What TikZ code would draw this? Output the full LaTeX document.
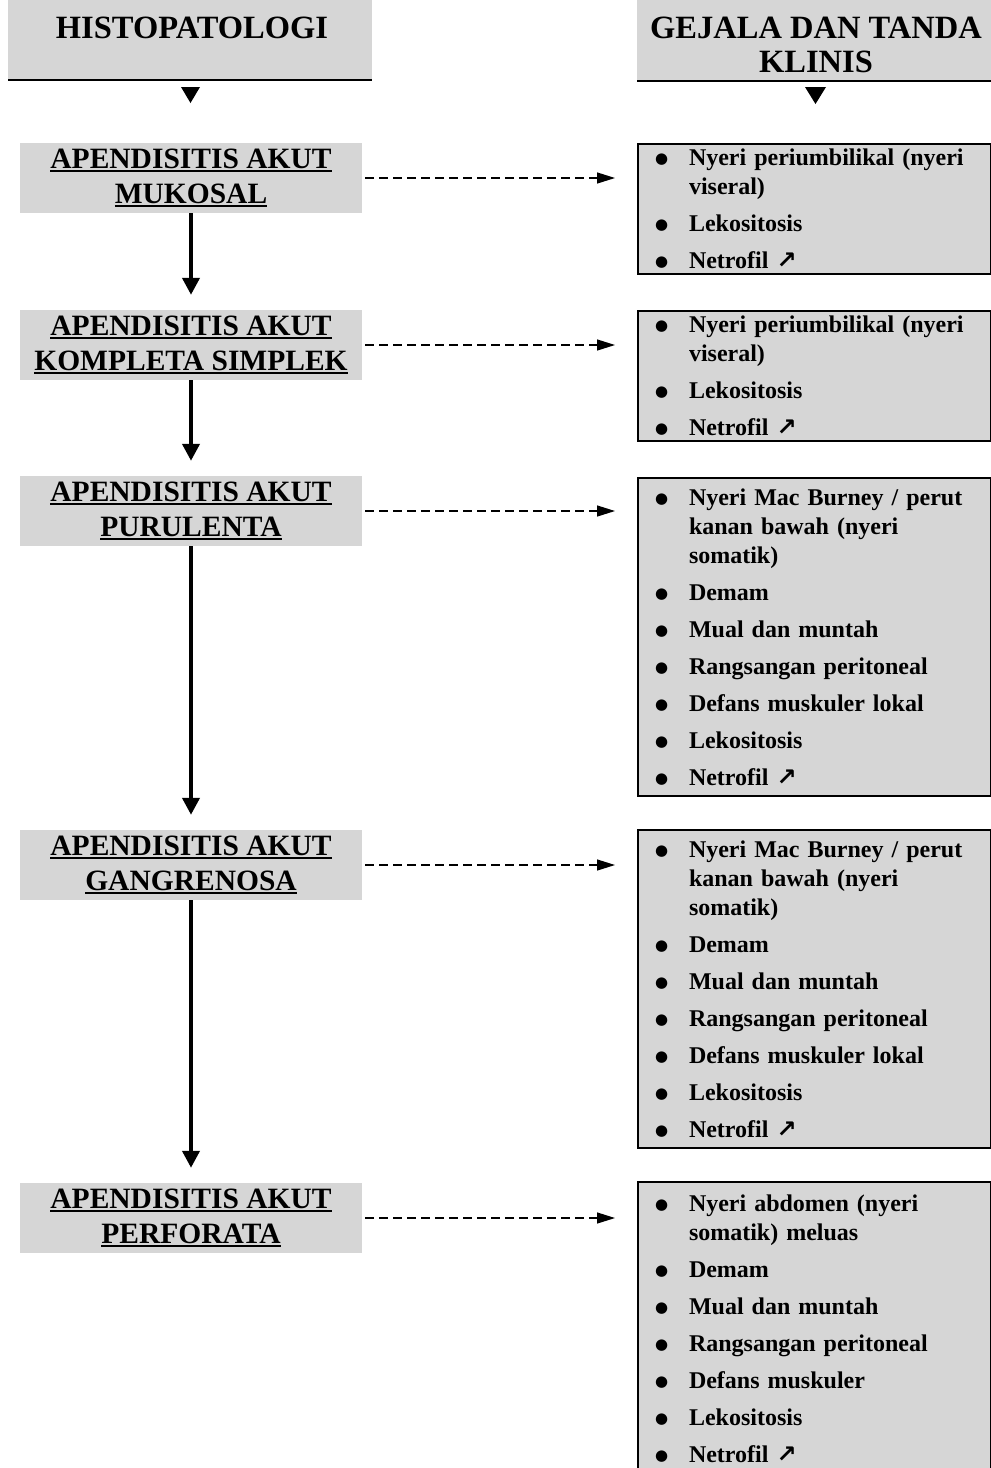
\documentclass[tikz,border=0pt]{standalone}
\usepackage{fontspec}
\setmainfont{Liberation Serif}
\newfontfamily\panahfont{DejaVu Sans}
\usepackage{tikz}
\usepackage{xcolor}
\usetikzlibrary{arrows.meta, positioning}

\definecolor{abu}{gray}{0.84}
\newcommand{\garis}[1]{\setbox0=\hbox{#1}\rlap{\rule[-4pt]{\wd0}{2.6pt}}\box0}
\newcommand{\naik}{{\panahfont\bfseries ↗}}
\newcommand{\titik}{\raisebox{2pt}{\panahfont\fontsize{15}{15}\selectfont ●}}
\newcommand{\butir}[1]{\hangindent=34pt\hangafter=1\noindent\makebox[34pt][l]{\titik}#1\par}

\begin{document}
\begin{tikzpicture}[x=1pt, y=-1pt,
    judul/.style={font=\fontsize{32.5}{34}\selectfont\bfseries, align=center},
    tahap/.style={fill=abu, minimum width=342pt, minimum height=70pt, inner sep=0pt, align=center, font=\fontsize{29.5}{35}\selectfont\bfseries},
    gejala/.style={draw, line width=2pt, fill=abu, anchor=north west, text width=319pt, inner xsep=17pt, align=left, font=\fontsize{24}{29}\selectfont\bfseries, execute at begin node={\setlength{\parskip}{8pt}}},
    panah/.style={line width=4pt, -{Triangle[length=17pt, width=17pt]}, shorten >=15pt},
    putus/.style={line width=1.3pt, dash pattern=on 9pt off 5pt, -{Triangle[length=18pt, width=11pt]}, shorten <=3pt, shorten >=22pt}]
    \useasboundingbox (0,0) rectangle (991,1468);
    \clip (0,0) rectangle (991,1468);

    % Headers
    \fill[abu] (8,0) rectangle (372,80);
    \fill[abu] (637,0) rectangle (991,80);
    \node[judul] (histo) at (192,28) {HISTOPATOLOGI};
    \node[judul] (klinis) at (816,45) {GEJALA DAN TANDA\\KLINIS};
    \draw[line width=2pt] (8,80) -- (372,80);
    \draw[line width=2pt] (637,81) -- (991,81);
    \fill (181,87) -- (200,87) -- (190.5,103) -- cycle;
    \fill (805,87) -- (826,87) -- (815.5,104) -- cycle;

    % Stages (left)
    \node[tahap] (m1) at (191,178) {\garis{APENDISITIS AKUT}\\\garis{MUKOSAL}};
    \node[tahap] (m2) at (191,345) {\garis{APENDISITIS AKUT}\\\garis{KOMPLETA SIMPLEK}};
    \node[tahap] (m3) at (191,511) {\garis{APENDISITIS AKUT}\\\garis{PURULENTA}};
    \node[tahap] (m4) at (191,865) {\garis{APENDISITIS AKUT}\\\garis{GANGRENOSA}};
    \node[tahap] (m5) at (191,1218) {\garis{APENDISITIS AKUT}\\\garis{PERFORATA}};

    % Symptoms (right)
    \node[gejala, minimum height=130pt] (g1) at (637,143) {\butir{Nyeri periumbilikal (nyeri\newline viseral)}\butir{Lekositosis}\butir{Netrofil \naik}};
    \node[gejala, minimum height=130pt] (g2) at (637,310) {\butir{Nyeri periumbilikal (nyeri\newline viseral)}\butir{Lekositosis}\butir{Netrofil \naik}};
    \node[gejala, minimum height=318pt] (g3) at (637,477) {\butir{Nyeri Mac Burney / perut\newline kanan bawah (nyeri\newline somatik)}\butir{Demam}\butir{Mual dan muntah}\butir{Rangsangan peritoneal}\butir{Defans muskuler lokal}\butir{Lekositosis}\butir{Netrofil \naik}};
    \node[gejala, minimum height=318pt] (g4) at (637,829) {\butir{Nyeri Mac Burney / perut\newline kanan bawah (nyeri\newline somatik)}\butir{Demam}\butir{Mual dan muntah}\butir{Rangsangan peritoneal}\butir{Defans muskuler lokal}\butir{Lekositosis}\butir{Netrofil \naik}};
    \node[gejala, minimum height=294pt] (g5) at (637,1181) {\butir{Nyeri abdomen (nyeri\newline somatik) meluas}\butir{Demam}\butir{Mual dan muntah}\butir{Rangsangan peritoneal}\butir{Defans muskuler}\butir{Lekositosis}\butir{Netrofil \naik}};

    % Progression
    \draw[panah] (m1) -- (m2);
    \draw[panah] (m2) -- (m3);
    \draw[panah] (m3) -- (m4);
    \draw[panah] (m4) -- (m5);

    % Stage to symptoms
    \draw[putus] (m1.east) -- (m1.east -| g1.west);
    \draw[putus] (m2.east) -- (m2.east -| g2.west);
    \draw[putus] (m3.east) -- (m3.east -| g3.west);
    \draw[putus] (m4.east) -- (m4.east -| g4.west);
    \draw[putus] (m5.east) -- (m5.east -| g5.west);
\end{tikzpicture}
\end{document}
